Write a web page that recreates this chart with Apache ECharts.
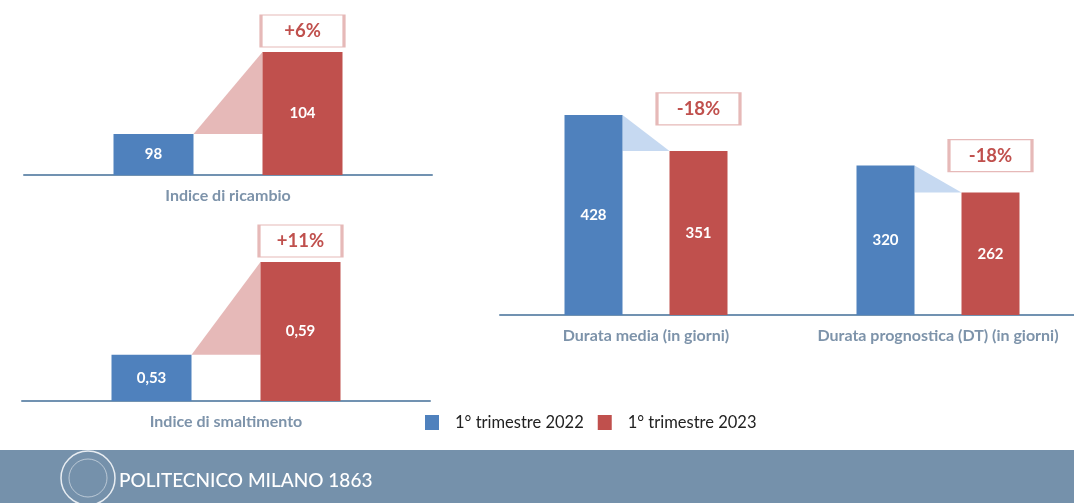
<!DOCTYPE html>
<html>
<head>
<meta charset="utf-8">
<script src="https://cdn.jsdelivr.net/npm/echarts@6/dist/echarts.min.js"></script>
<style>
html,body{margin:0;padding:0;background:#fff;}
#c{width:1074px;height:503px;}
</style>
</head>
<body>
<div id="c"></div>
<script>
// ---- data ----
var seriesNames = ['1° trimestre 2022', '1° trimestre 2023'];
var catRicambio = ['Indice di ricambio'];
var ricambio2022 = [98];
var ricambio2023 = [104];
var ricambioPct = ['+6%'];

var catSmaltimento = ['Indice di smaltimento'];
var smaltimento2022 = [0.53];
var smaltimento2023 = [0.59];
var smaltimentoPct = ['+11%'];

var catDurata = ['Durata media (in giorni)', 'Durata prognostica (DT) (in giorni)'];
var durata2022 = [428, 320];
var durata2023 = [351, 262];
var durataPct = ['-18%', '-18%'];

// ---- styles ----
var BLUE = '#4f81bd', RED = '#c0504d', PINK = '#e6b9b8', LBLUE = '#c6d9f1';
var AXIS = '#7192b1', CATCOL = '#7d93aa';
var FONT = 'Lato, "Open Sans", sans-serif';

function fmt(v, comma) { var s = String(v); return comma ? s.replace('.', ',') : s; }

function barLabel(comma) {
  return { show: true, position: 'inside', color: '#fff', fontFamily: FONT, fontWeight: 'bold', fontSize: 15,
    formatter: function (p) { return fmt(p.value, comma); } };
}

function buildPanel(gi, cats, v1, v2, pct, barW, gapPx, boxOffsets, comma) {
  var out = [];
  out.push({ type: 'bar', name: seriesNames[0], xAxisIndex: gi, yAxisIndex: gi, data: v1,
    barWidth: barW, barGap: (gapPx / barW * 100) + '%', itemStyle: { color: BLUE },
    label: barLabel(comma), silent: true });
  out.push({ type: 'bar', name: seriesNames[1], xAxisIndex: gi, yAxisIndex: gi, data: v2,
    barWidth: barW, barGap: (gapPx / barW * 100) + '%', itemStyle: { color: RED },
    label: barLabel(comma), silent: true,
    markPoint: { silent: true, animation: false,
      data: cats.map(function (c, i) {
        return { coord: [c, v2[i]], symbol: 'rect', symbolSize: [83, 32], symbolOffset: [0, boxOffsets[i]],
          itemStyle: { color: '#fff', borderColor: PINK, borderWidth: 2 },
          label: { show: true, position: 'inside', formatter: pct[i], color: RED, fontFamily: FONT, fontWeight: 'bold', fontSize: 18.5 } };
      }) } });
  out.push({ type: 'custom', xAxisIndex: gi, yAxisIndex: gi, silent: true, z: 1,
    data: cats.map(function (c, i) { return [i, v1[i], v2[i]]; }),
    renderItem: function (params, api) {
      var idx = api.value(0), a = api.value(1), b = api.value(2);
      var p1 = api.coord([idx, a]), p2 = api.coord([idx, b]);
      var bx = p1[0] - gapPx / 2, rx = p1[0] + gapPx / 2;
      var third = b > a ? [rx, p1[1]] : [bx, p2[1]];
      return { type: 'polygon', shape: { points: [[bx, p1[1]], [rx, p2[1]], third] },
        style: { fill: b > a ? PINK : LBLUE } };
    } });
  return out;
}

function xAx(gi, cats) {
  return { type: 'category', gridIndex: gi, data: cats,
    axisLine: { show: true, lineStyle: { color: AXIS, width: 2 } }, axisTick: { show: false },
    axisLabel: { color: CATCOL, fontFamily: FONT, fontWeight: 'bold', fontSize: 16, margin: 13, interval: 0 } };
}
function yAx(gi, mn, mx) {
  return { type: 'value', gridIndex: gi, min: mn, max: mx, show: false, splitLine: { show: false } };
}

var series = []
  .concat(buildPanel(0, catRicambio, ricambio2022, ricambio2023, ricambioPct, 80, 69, [-21], false))
  .concat(buildPanel(1, catSmaltimento, smaltimento2022, smaltimento2023, smaltimentoPct, 80, 69, [-21], true))
  .concat(buildPanel(2, catDurata, durata2022, durata2023, durataPct, 58, 47, [-42, -37], false));

var chart = echarts.init(document.getElementById('c'), null, { renderer: 'canvas' });
chart.setOption({
  animation: false,
  backgroundColor: '#fff',
  grid: [
    { left: 24, top: 52, width: 408, height: 123, outerBoundsMode: 'none' },
    { left: 22, top: 262, width: 408, height: 139, outerBoundsMode: 'none' },
    { left: 500, top: 115, width: 584, height: 200, outerBoundsMode: 'none' }
  ],
  xAxis: [xAx(0, catRicambio), xAx(1, catSmaltimento), xAx(2, catDurata)],
  yAxis: [yAx(0, 95, 104), yAx(1, 0.50, 0.59), yAx(2, 0, 428)],
  legend: { data: seriesNames, left: 425, top: 414, padding: 0, icon: 'rect', itemWidth: 14, itemHeight: 15, itemGap: 14,
    selectedMode: false,
    textStyle: { color: '#222', fontFamily: FONT, fontSize: 16.5, padding: [0, 0, 0, 11] } },
  graphic: [
    { type: 'rect', left: 0, top: 450, shape: { width: 1074, height: 53 }, style: { fill: '#7591ab' }, silent: true },
    { type: 'circle', shape: { cx: 88, cy: 478, r: 27 }, style: { fill: 'none', stroke: '#e8edf2', lineWidth: 1.5 }, silent: true },
    { type: 'circle', shape: { cx: 88, cy: 478, r: 19 }, style: { fill: 'none', stroke: 'rgba(232,237,242,0.6)', lineWidth: 1 }, silent: true },
    { type: 'text', x: 119, y: 481, style: { text: 'POLITECNICO MILANO 1863', fill: '#fff', font: '500 19px Lato, "Open Sans", sans-serif', verticalAlign: 'middle' }, silent: true }
  ],
  series: series
});
</script>
</body>
</html>
